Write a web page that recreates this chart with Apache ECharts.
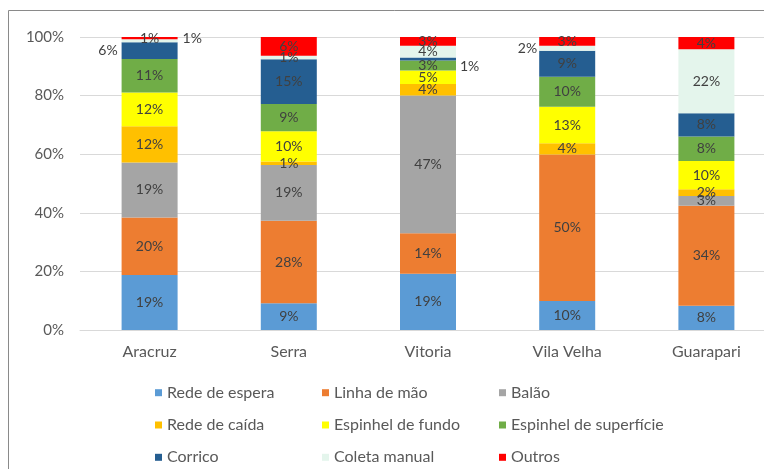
<!DOCTYPE html>
<html>
<head>
<meta charset="utf-8">
<script src="https://cdn.jsdelivr.net/npm/echarts@6/dist/echarts.min.js"></script>
<style>
html,body{margin:0;padding:0;background:#fff;overflow:hidden;}
#chart{width:780px;height:469px;}
</style>
</head>
<body>
<div id="chart"></div>
<script>
const categories = ['Aracruz', 'Serra', 'Vitoria', 'Vila Velha', 'Guarapari'];
const seriesNames = ['Rede de espera', 'Linha de mão', 'Balão', 'Rede de caída', 'Espinhel de fundo', 'Espinhel de superfície', 'Corrico', 'Coleta manual', 'Outros'];
const redeEspera    = [18.8, 9.1, 19.2, 9.9, 8.3];
const linhaMao      = [19.6, 28.2, 13.8, 50.0, 34.1];
const balao         = [18.8, 19.0, 47.0, 0, 3.3];
const redeCaida     = [12.3, 1.2, 4.0, 3.8, 2.3];
const espinhelFundo = [11.6, 10.3, 4.6, 12.5, 9.7];
const espinhelSup   = [11.4, 9.3, 3.4, 10.2, 8.3];
const corrico       = [5.7, 15.3, 1.0, 8.9, 8.0];
const coletaManual  = [1.0, 1.2, 4.0, 1.7, 21.8];
const outros        = [0.8, 6.4, 3.0, 3.0, 4.2];
const yTicks = [0, 20, 40, 60, 80, 100];

const allValues = [redeEspera, linhaMao, balao, redeCaida, espinhelFundo, espinhelSup, corrico, coletaManual, outros];
const colors = ['#5B9BD5', '#ED7D31', '#A5A5A5', '#FFC000', '#FFFF00', '#70AD47', '#255E91', '#E4F5EC', '#FF0000'];

// labels moved outside of their bars in the reference
const outsideLabels = {
  '6-0': {position: 'left', distance: 4, offset: [0, 0]},
  '7-0': {position: 'right', distance: 5, offset: [0, -2]},
  '6-2': {position: 'right', distance: 4, offset: [0, 8]},
  '7-3': {position: 'left', distance: 2, offset: [0, 0]}
};

const FONT = 'Lato, "Open Sans", sans-serif';

const series = seriesNames.map((name, i) => ({
  name: name,
  type: 'bar',
  stack: 'total',
  barWidth: 56,
  itemStyle: {color: colors[i]},
  label: {
    show: true,
    position: 'inside',
    color: '#404040',
    fontFamily: FONT,
    fontSize: 14,
    formatter: p => p.value > 0 ? Math.round(p.value) + '%' : ''
  },
  data: allValues[i].map((v, j) => {
    const o = outsideLabels[i + '-' + j];
    return o ? {value: v, label: o} : v;
  })
}));

const legendCols = [[0, 3, 6], [1, 4, 7], [2, 5, 8]];
const legendLefts = [155, 322, 499];
const legends = legendCols.map((col, k) => ({
  orient: 'vertical',
  left: legendLefts[k],
  top: 383.7,
  padding: 0,
  itemGap: 14.3,
  itemWidth: 7,
  itemHeight: 7,
  icon: 'rect',
  selectedMode: false,
  textStyle: {color: '#595959', fontSize: 16, fontFamily: FONT, lineHeight: 18},
  data: col.map(i => seriesNames[i])
}));

const chart = echarts.init(document.getElementById('chart'));
chart.setOption({
  animation: false,
  backgroundColor: '#fff',
  textStyle: {fontFamily: FONT},
  graphic: [{
    type: 'rect',
    shape: {x: 8.5, y: 10.5, width: 800, height: 500},
    style: {fill: 'none', stroke: '#8a8a8a', lineWidth: 1},
    silent: true
  }],
  legend: legends,
  grid: {left: 80, top: 37, right: 4, height: 293, containLabel: false},
  xAxis: {
    type: 'category',
    data: categories,
    axisLine: {lineStyle: {color: '#D9D9D9'}},
    axisTick: {show: false},
    axisLabel: {color: '#595959', fontSize: 16, fontFamily: FONT, margin: 14}
  },
  yAxis: {
    type: 'value',
    min: yTicks[0],
    max: yTicks[yTicks.length - 1],
    interval: yTicks[1] - yTicks[0],
    axisLine: {show: false},
    axisTick: {show: false},
    splitLine: {lineStyle: {color: '#D9D9D9'}},
    axisLabel: {color: '#595959', fontSize: 15, fontFamily: FONT, margin: 16, formatter: '{value}%'}
  },
  series: series
});
</script>
</body>
</html>
